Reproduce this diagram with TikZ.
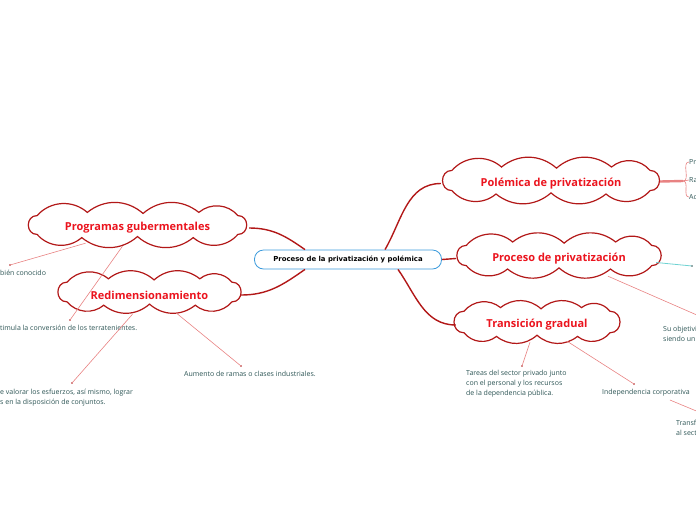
\documentclass[tikz,border=0pt]{standalone}
\usepackage{fontspec}
\setmainfont{Open Sans}
\newfontfamily\rootfont{DejaVu Sans}
\usetikzlibrary{shapes, shapes.geometric, positioning, calc, backgrounds}

\definecolor{trunkred}{RGB}{178,24,24}
\definecolor{cloudtext}{RGB}{235,20,30}
\definecolor{leafred}{RGB}{232,130,130}
\definecolor{leaftext}{RGB}{45,85,85}
\definecolor{rootblue}{RGB}{60,155,220}
\definecolor{leafcyan}{RGB}{110,210,210}

% puffed outline round a topic node: node name, half width, half height
\newcommand{\cloudring}[3]{%
    \draw[cloudline] ($(#1.center)+({0.9*#2},{-0.45*#3+3})$)
        \foreach \u/\v/\b/\l in {0.9/0.45/90/1.6, 0.55/0.6/45/1, 0.05/0.55/40/1, -0.45/0.6/40/1,
                                 -0.9/0.45/45/1, -0.9/-0.45/90/1.6, -0.5/-0.6/45/1, 0/-0.55/40/1,
                                 0.5/-0.6/40/1, 0.9/-0.45/45/1}
        { to[bend right=\b, looseness=\l] ($(#1.center)+({\u*#2},{\v*#3+3})$) } -- cycle;}

\begin{document}
\begin{tikzpicture}[x=1pt, y=1pt,
        root/.style={rectangle, rounded corners=9pt, draw=rootblue, line width=0.8pt, fill=white, minimum width=187pt, minimum height=19pt, font=\rootfont\fontsize{6.9}{8}\selectfont\bfseries},
        topic/.style={ellipse, inner sep=0pt, text=cloudtext, font=\fontsize{11}{13}\selectfont\bfseries},
        cloudline/.style={draw=trunkred, line width=1.2pt, fill=white},
        trunk/.style={draw=trunkred, line width=1.4pt},
        leaf/.style={draw=leafred, line width=0.6pt},
        tip/.style={circle, fill=trunkred, inner sep=0pt, minimum size=1.6pt},
        note/.style={anchor=west, inner sep=0pt, text=leaftext, align=left, font=\fontsize{7}{9.8}\selectfont}
    ]
        \useasboundingbox (0,0) rectangle (696,-520);
        \clip (0,0) rectangle (696,-520);

        % Central node and the five topics
        \node[root] (root) at (348,-259.5) {Proceso de la privatización y polémica};

        \node[topic, minimum width=223pt, minimum height=42pt] (prog) at (137.5,-228) {Programas gubermentales};
        \node[topic, minimum width=183pt, minimum height=44pt] (redim) at (149.5,-295) {Redimensionamiento};
        \node[topic, minimum width=220pt, minimum height=45pt] (pol) at (551,-183.5) {Polémica de privatización};
        \node[topic, minimum width=206pt, minimum height=45pt] (proc) at (559,-258.5) {Proceso de privatización};
        \node[topic, minimum width=162pt, minimum height=48pt] (trans) at (537,-325) {Transición gradual};

        % Cloud outlines behind the texts
        \begin{pgfonlayer}{background}
            \cloudring{prog}{111.5}{21}
            \cloudring{redim}{91.5}{22}
            \cloudring{pol}{110}{22.5}
            \cloudring{proc}{103}{22.5}
            \cloudring{trans}{81}{24}
        \end{pgfonlayer}

        % Root -> topics
        \draw[trunk] ([xshift=-43pt]root.north) to[out=145, in=0] (prog.east);
        \draw[trunk] ([xshift=-43pt]root.south) to[out=215, in=0] (redim.east);
        \draw[trunk] ([xshift=37pt]root.north) to[out=60, in=180] (pol.west);
        \draw[trunk] (root.east) -- (proc.west);
        \draw[trunk] ([xshift=50pt]root.south) to[out=-55, in=180] (trans.west);

        % Leaves of Programas gubermentales
        \node[tip] (p1) at (10,-265) {};
        \node[note] (p1t) at (0,-273) {bién conocido};
        \draw[leaf] ([xshift=-52pt, yshift=6pt]prog.south) -- (p1);
        \node[tip] (p2) at (70,-320) {};
        \node[note] (p2t) at (0,-328) {timula la conversión de los terratenientes.};
        \draw[leaf] ([xshift=-15pt, yshift=3pt]prog.south) -- (p2);

        % Leaves of Redimensionamiento
        \node[tip] (r1) at (72,-383) {};
        \node[note] (r1t) at (0,-397.5) {e valorar los esfuerzos, así mismo, lograr\\s en la disposición de conjuntos.};
        \draw[leaf] ([xshift=-17pt, yshift=3pt]redim.south) -- (r1);
        \node[tip] (r2) at (241,-366) {};
        \node[note] (r2t) at (184,-374) {Aumento de ramas o clases industriales.};
        \draw[leaf] ([xshift=27pt, yshift=4pt]redim.south) -- (r2);

        % Leaves of Polémica de privatización
        \coordinate (fork) at (683,-181);
        \draw[draw=leafred, line width=2.4pt] ([xshift=-1pt, yshift=2pt]pol.east) -- (fork);
        \node[note] (a1) at (689,-162) {Pr};
        \node[note] (a2) at (689,-180) {Ra};
        \node[note] (a3) at (689,-197) {Ac};
        \draw[leaf] (fork) to[out=0, in=180] (a1.west);
        \draw[leaf] (fork) -- (a2.west);
        \draw[leaf] (fork) to[out=0, in=180] (a3.west);

        % Leaves of Proceso de privatización
        \node[circle, fill=leaftext, inner sep=0pt, minimum size=1.6pt] (c1) at (692,-266) {};
        \draw[draw=leafcyan, line width=0.8pt] ([xshift=-6pt, yshift=-4pt]proc.east) -- (c1);
        \coordinate (c2) at (706,-319);
        \draw[leaf] ([xshift=49pt, yshift=5pt]proc.south) -- (c2);
        \node[note] (c2t) at (663,-333.5) {Su objetivi\\siendo un};

        % Leaves of Transición gradual
        \node[tip] (t1) at (522,-366) {};
        \node[note] (t1t) at (466,-383.5) {Tareas del sector privado junto\\con el personal y los recursos\\de la dependencia pública.};
        \draw[leaf] ([xshift=-7pt, yshift=7pt]trans.south) -- (t1);
        \node[tip] (t2) at (634,-384) {};
        \node[note] (t2t) at (602,-393) {Independencia corporativa};
        \draw[leaf] ([xshift=30pt, yshift=8pt]trans.south) -- (t2);

        % Leaf of Independencia corporativa
        \coordinate (i1) at (706,-415);
        \draw[leaf] ([xshift=-20pt, yshift=-7pt]t2t.east) -- (i1);
        \node[note] (i1t) at (676,-427.5) {Transf\\al sect};
    \end{tikzpicture}
\end{document}
